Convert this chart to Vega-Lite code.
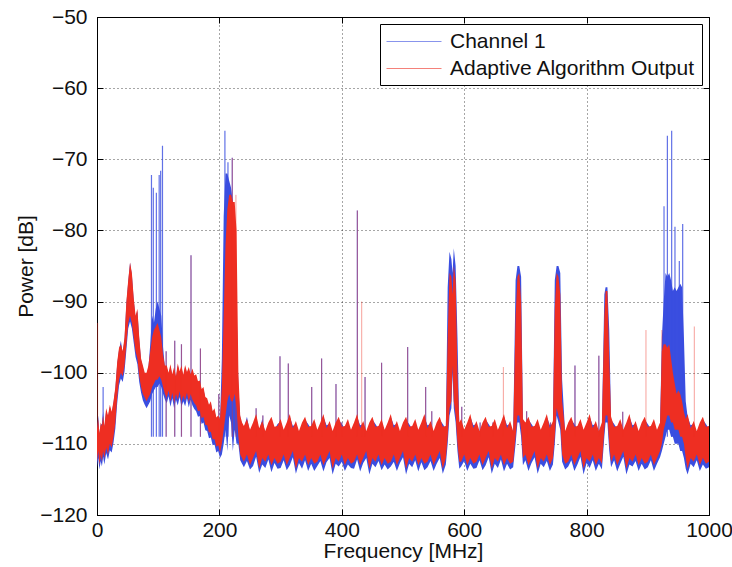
{
"$schema": "https://vega.github.io/schema/vega-lite/v6.json",
"width": 612, "height": 498,
"autosize": "none",
"padding": {"left": 97, "top": 17, "right": 23, "bottom": 52},
"background": "white",
"datasets": {
"band": [
{"f":0,"rl":-112.5,"rh":-108,"bl":-113.3,"bh":-108.3},
{"f":2,"rl":-111,"rh":-106.5,"bl":-112,"bh":-106},
{"f":4,"rl":-113,"rh":-108.5,"bl":-113.6,"bh":-108.8},
{"f":6,"rl":-111.5,"rh":-107,"bl":-112.4,"bh":-107.3},
{"f":8,"rl":-112.5,"rh":-107.5,"bl":-113.2,"bh":-107.2},
{"f":10,"rl":-111,"rh":-106,"bl":-111.8,"bh":-105.5},
{"f":12,"rl":-112,"rh":-107.5,"bl":-112.9,"bh":-107.8},
{"f":15,"rl":-110.5,"rh":-105,"bl":-111.3,"bh":-105.3},
{"f":18,"rl":-111.5,"rh":-106,"bl":-112.2,"bh":-106.3},
{"f":21,"rl":-110,"rh":-104.5,"bl":-110.9,"bh":-104.8},
{"f":24,"rl":-110.5,"rh":-105.5,"bl":-111.2,"bh":-105.8},
{"f":27,"rl":-109,"rh":-104,"bl":-109.8,"bh":-104.2},
{"f":30,"rl":-107,"rh":-102,"bl":-107.8,"bh":-102.3},
{"f":33,"rl":-103.5,"rh":-98.5,"bl":-104.3,"bh":-98.8},
{"f":36,"rl":-101,"rh":-96.5,"bl":-101.8,"bh":-96.8},
{"f":39,"rl":-100,"rh":-96,"bl":-100.8,"bh":-95.5},
{"f":42,"rl":-100.5,"rh":-97,"bl":-101.3,"bh":-97.3},
{"f":45,"rl":-99,"rh":-95,"bl":-99.8,"bh":-95.3},
{"f":48,"rl":-96,"rh":-90,"bl":-96.8,"bh":-90.3},
{"f":51,"rl":-93,"rh":-87,"bl":-93.8,"bh":-87.3},
{"f":54,"rl":-92,"rh":-84.5,"bl":-92.8,"bh":-84.5},
{"f":57,"rl":-93,"rh":-86,"bl":-93.8,"bh":-86.3},
{"f":60,"rl":-95,"rh":-89.5,"bl":-95.8,"bh":-89.8},
{"f":63,"rl":-97,"rh":-92,"bl":-97.8,"bh":-92.3},
{"f":66,"rl":-98,"rh":-91,"bl":-98.8,"bh":-91.3},
{"f":69,"rl":-100.5,"rh":-95,"bl":-101.3,"bh":-95.3},
{"f":72,"rl":-102,"rh":-98,"bl":-102.8,"bh":-98.3},
{"f":75,"rl":-103,"rh":-99,"bl":-103.9,"bh":-99.3},
{"f":78,"rl":-103.5,"rh":-100,"bl":-104.5,"bh":-100.3},
{"f":81,"rl":-104,"rh":-100,"bl":-105,"bh":-100.3},
{"f":84,"rl":-103.5,"rh":-99,"bl":-104.5,"bh":-99.3},
{"f":87,"rl":-103,"rh":-97,"bl":-104,"bh":-96},
{"f":90,"rl":-102,"rh":-95,"bl":-103,"bh":-92},
{"f":93,"rl":-101.5,"rh":-94,"bl":-102.5,"bh":-93},
{"f":96,"rl":-101,"rh":-93.5,"bl":-102,"bh":-91},
{"f":99,"rl":-101,"rh":-93,"bl":-102,"bh":-90},
{"f":102,"rl":-100.5,"rh":-94,"bl":-101.5,"bh":-91},
{"f":105,"rl":-101,"rh":-95,"bl":-102,"bh":-92},
{"f":108,"rl":-102,"rh":-97.5,"bl":-103,"bh":-96.5},
{"f":111,"rl":-103,"rh":-99,"bl":-103.8,"bh":-99.3},
{"f":114,"rl":-103.5,"rh":-99,"bl":-104.3,"bh":-99.3},
{"f":117,"rl":-102.5,"rh":-100,"bl":-103.3,"bh":-100.3},
{"f":120,"rl":-104,"rh":-98.8,"bl":-104.8,"bh":-99.1},
{"f":123,"rl":-102.8,"rh":-100.2,"bl":-103.6,"bh":-100.5},
{"f":126,"rl":-104.2,"rh":-99.2,"bl":-105,"bh":-99.5},
{"f":129,"rl":-103,"rh":-100.5,"bl":-103.8,"bh":-100.8},
{"f":132,"rl":-103.8,"rh":-98.7,"bl":-104.6,"bh":-99},
{"f":135,"rl":-102.6,"rh":-99.8,"bl":-103.4,"bh":-100.1},
{"f":138,"rl":-104,"rh":-99,"bl":-104.8,"bh":-99.3},
{"f":141,"rl":-103.2,"rh":-100.3,"bl":-104,"bh":-100.6},
{"f":144,"rl":-103.9,"rh":-98.9,"bl":-104.7,"bh":-99.2},
{"f":147,"rl":-102.8,"rh":-99.9,"bl":-103.6,"bh":-100.2},
{"f":150,"rl":-104.1,"rh":-99.2,"bl":-104.9,"bh":-99.5},
{"f":153,"rl":-103,"rh":-100.2,"bl":-103.8,"bh":-100.5},
{"f":156,"rl":-103.8,"rh":-99.4,"bl":-104.6,"bh":-99.7},
{"f":159,"rl":-104.3,"rh":-100.4,"bl":-105.1,"bh":-100.7},
{"f":162,"rl":-104.6,"rh":-100.2,"bl":-105.4,"bh":-100.5},
{"f":165,"rl":-105.4,"rh":-101.2,"bl":-106.2,"bh":-101.5},
{"f":168,"rl":-105.3,"rh":-101.1,"bl":-106.1,"bh":-101.4},
{"f":171,"rl":-106.4,"rh":-102.3,"bl":-107.2,"bh":-102.6},
{"f":174,"rl":-106.2,"rh":-102,"bl":-107,"bh":-102.3},
{"f":177,"rl":-107.3,"rh":-103.4,"bl":-108.1,"bh":-103.7},
{"f":180,"rl":-107.4,"rh":-103.6,"bl":-108.2,"bh":-103.9},
{"f":183,"rl":-108.4,"rh":-104.5,"bl":-109.2,"bh":-104.8},
{"f":186,"rl":-108.3,"rh":-104,"bl":-109.1,"bh":-104.3},
{"f":189,"rl":-109.4,"rh":-105.4,"bl":-110.2,"bh":-105.7},
{"f":192,"rl":-109.3,"rh":-105,"bl":-110.1,"bh":-105.3},
{"f":195,"rl":-110.4,"rh":-106.3,"bl":-111.2,"bh":-106.6},
{"f":198,"rl":-110.2,"rh":-106,"bl":-111,"bh":-106.3},
{"f":201,"rl":-111.2,"rh":-106.5,"bl":-112,"bh":-106.8},
{"f":204,"rl":-110,"rh":-102,"bl":-111.5,"bh":-98},
{"f":207,"rl":-108,"rh":-92,"bl":-110,"bh":-78},
{"f":210,"rl":-106,"rh":-82,"bl":-108,"bh":-72},
{"f":213,"rl":-104,"rh":-77,"bl":-111,"bh":-72},
{"f":216,"rl":-103,"rh":-75,"bl":-106,"bh":-73},
{"f":219,"rl":-104,"rh":-75,"bl":-107,"bh":-74},
{"f":222,"rl":-104,"rh":-76,"bl":-111,"bh":-76},
{"f":225,"rl":-103,"rh":-76,"bl":-108,"bh":-80},
{"f":228,"rl":-105,"rh":-80,"bl":-110,"bh":-90},
{"f":231,"rl":-109,"rh":-100,"bl":-110,"bh":-102},
{"f":234,"rl":-111.5,"rh":-106,"bl":-112.3,"bh":-106.3},
{"f":237,"rl":-112,"rh":-107,"bl":-112.8,"bh":-107.3},
{"f":240,"rl":-112.5,"rh":-107.5,"bl":-113.3,"bh":-107.9},
{"f":245,"rl":-111.5,"rh":-106.5,"bl":-112.4,"bh":-106.2},
{"f":250,"rl":-113,"rh":-108,"bl":-113.6,"bh":-108.4},
{"f":255,"rl":-112,"rh":-107,"bl":-113.1,"bh":-107.4},
{"f":260,"rl":-111,"rh":-105.8,"bl":-111.8,"bh":-106.2},
{"f":265,"rl":-113.5,"rh":-107.8,"bl":-114.1,"bh":-108.2},
{"f":270,"rl":-112,"rh":-106.8,"bl":-112.9,"bh":-106.5},
{"f":275,"rl":-112.5,"rh":-108.2,"bl":-113.4,"bh":-108.6},
{"f":280,"rl":-111.5,"rh":-107,"bl":-112.2,"bh":-107.4},
{"f":285,"rl":-113,"rh":-106.2,"bl":-114,"bh":-106.6},
{"f":290,"rl":-112,"rh":-107.6,"bl":-112.7,"bh":-108},
{"f":295,"rl":-112.8,"rh":-107.5,"bl":-113.5,"bh":-107.2},
{"f":300,"rl":-112.5,"rh":-106.5,"bl":-113.4,"bh":-106.9},
{"f":305,"rl":-111.5,"rh":-108,"bl":-112.3,"bh":-108.4},
{"f":310,"rl":-113,"rh":-107,"bl":-113.7,"bh":-107.4},
{"f":315,"rl":-112,"rh":-105.8,"bl":-113,"bh":-106.2},
{"f":320,"rl":-111,"rh":-107.8,"bl":-111.9,"bh":-107.5},
{"f":325,"rl":-113.5,"rh":-106.8,"bl":-114.2,"bh":-107.2},
{"f":330,"rl":-112,"rh":-108.2,"bl":-112.7,"bh":-108.6},
{"f":335,"rl":-112.5,"rh":-107,"bl":-113.5,"bh":-107.4},
{"f":340,"rl":-111.5,"rh":-106.2,"bl":-112.3,"bh":-106.6},
{"f":345,"rl":-113,"rh":-107.6,"bl":-113.8,"bh":-107.2},
{"f":350,"rl":-112,"rh":-107.5,"bl":-112.8,"bh":-107.9},
{"f":355,"rl":-112.8,"rh":-106.5,"bl":-113.8,"bh":-106.9},
{"f":360,"rl":-112.5,"rh":-108,"bl":-113.1,"bh":-108.4},
{"f":365,"rl":-111.5,"rh":-107,"bl":-112.4,"bh":-107.4},
{"f":370,"rl":-113,"rh":-105.8,"bl":-113.9,"bh":-106.2},
{"f":375,"rl":-112,"rh":-107.8,"bl":-112.6,"bh":-107.4},
{"f":380,"rl":-111,"rh":-106.8,"bl":-112,"bh":-107.2},
{"f":385,"rl":-113.5,"rh":-108.2,"bl":-114.3,"bh":-108.6},
{"f":390,"rl":-112,"rh":-107,"bl":-112.8,"bh":-107.4},
{"f":395,"rl":-112.5,"rh":-106.2,"bl":-113.2,"bh":-106.6},
{"f":400,"rl":-111.5,"rh":-107.6,"bl":-112.5,"bh":-107.2},
{"f":405,"rl":-113,"rh":-107.5,"bl":-113.8,"bh":-107.9},
{"f":410,"rl":-112,"rh":-106.5,"bl":-112.9,"bh":-106.9},
{"f":415,"rl":-112.8,"rh":-108,"bl":-113.4,"bh":-108.4},
{"f":420,"rl":-112.5,"rh":-107,"bl":-113.5,"bh":-107.4},
{"f":425,"rl":-111.5,"rh":-105.8,"bl":-112.2,"bh":-106.2},
{"f":430,"rl":-113,"rh":-107.8,"bl":-113.9,"bh":-107.4},
{"f":435,"rl":-112,"rh":-106.8,"bl":-112.7,"bh":-107.2},
{"f":440,"rl":-111,"rh":-108.2,"bl":-112,"bh":-108.6},
{"f":445,"rl":-113.5,"rh":-107,"bl":-114.3,"bh":-107.4},
{"f":450,"rl":-112,"rh":-106.2,"bl":-112.8,"bh":-106.6},
{"f":455,"rl":-112.5,"rh":-107.6,"bl":-113.3,"bh":-107.2},
{"f":460,"rl":-111.5,"rh":-107.5,"bl":-112.4,"bh":-107.9},
{"f":465,"rl":-113,"rh":-106.5,"bl":-113.7,"bh":-106.9},
{"f":470,"rl":-112,"rh":-108,"bl":-112.9,"bh":-108.4},
{"f":475,"rl":-112.8,"rh":-107,"bl":-113.6,"bh":-107.4},
{"f":480,"rl":-112.5,"rh":-105.8,"bl":-113.2,"bh":-106.2},
{"f":485,"rl":-111.5,"rh":-107.8,"bl":-112.5,"bh":-107.4},
{"f":490,"rl":-113,"rh":-106.8,"bl":-113.8,"bh":-107.2},
{"f":495,"rl":-112,"rh":-108.2,"bl":-112.7,"bh":-108.6},
{"f":500,"rl":-111,"rh":-107,"bl":-111.9,"bh":-107.4},
{"f":505,"rl":-113.5,"rh":-106.2,"bl":-114.3,"bh":-106.6},
{"f":510,"rl":-112,"rh":-107.6,"bl":-112.8,"bh":-107.2},
{"f":515,"rl":-112.5,"rh":-107.5,"bl":-113.3,"bh":-107.9},
{"f":520,"rl":-111.5,"rh":-106.5,"bl":-112.3,"bh":-106.9},
{"f":525,"rl":-113,"rh":-108,"bl":-113.9,"bh":-108.4},
{"f":530,"rl":-112,"rh":-107,"bl":-112.6,"bh":-107.4},
{"f":535,"rl":-112.8,"rh":-105.8,"bl":-113.7,"bh":-106.2},
{"f":540,"rl":-112.5,"rh":-107.8,"bl":-113.3,"bh":-107.4},
{"f":545,"rl":-111.5,"rh":-106.8,"bl":-112.4,"bh":-107.2},
{"f":550,"rl":-113,"rh":-108.2,"bl":-113.8,"bh":-108.6},
{"f":555,"rl":-112,"rh":-107,"bl":-112.8,"bh":-107.4},
{"f":560,"rl":-111,"rh":-106.2,"bl":-112,"bh":-106.6},
{"f":565,"rl":-113.5,"rh":-107.6,"bl":-114.2,"bh":-107.2},
{"f":570,"rl":-112,"rh":-107.5,"bl":-112.9,"bh":-107.9},
{"f":573,"rl":-109,"rh":-95,"bl":-110,"bh":-88},
{"f":576,"rl":-105,"rh":-86,"bl":-106,"bh":-83},
{"f":579,"rl":-104,"rh":-86.5,"bl":-105,"bh":-84},
{"f":581,"rl":-99,"rh":-89,"bl":-100,"bh":-86},
{"f":583,"rl":-104,"rh":-85,"bl":-105,"bh":-82.5},
{"f":586,"rl":-106,"rh":-87,"bl":-107,"bh":-85},
{"f":589,"rl":-110,"rh":-100,"bl":-111,"bh":-95},
{"f":592,"rl":-112.5,"rh":-107,"bl":-113.5,"bh":-107.4},
{"f":595,"rl":-112.5,"rh":-106.5,"bl":-113.2,"bh":-106.9},
{"f":600,"rl":-111.5,"rh":-108,"bl":-112.4,"bh":-108.4},
{"f":605,"rl":-113,"rh":-107,"bl":-113.8,"bh":-107.4},
{"f":610,"rl":-112,"rh":-105.8,"bl":-112.8,"bh":-106.2},
{"f":615,"rl":-112.8,"rh":-107.8,"bl":-113.5,"bh":-107.4},
{"f":620,"rl":-112.5,"rh":-106.8,"bl":-113.4,"bh":-107.2},
{"f":625,"rl":-111.5,"rh":-108.2,"bl":-112.3,"bh":-108.6},
{"f":630,"rl":-113,"rh":-107,"bl":-113.7,"bh":-107.4},
{"f":635,"rl":-112,"rh":-106.2,"bl":-113,"bh":-106.6},
{"f":640,"rl":-111,"rh":-107.6,"bl":-111.9,"bh":-107.2},
{"f":645,"rl":-113.5,"rh":-107.5,"bl":-114.2,"bh":-107.9},
{"f":650,"rl":-112,"rh":-106.5,"bl":-112.8,"bh":-106.9},
{"f":655,"rl":-112.5,"rh":-108,"bl":-113.4,"bh":-108.4},
{"f":660,"rl":-111.5,"rh":-107,"bl":-112.2,"bh":-107.4},
{"f":665,"rl":-113,"rh":-105.8,"bl":-113.9,"bh":-106.2},
{"f":670,"rl":-112,"rh":-107.8,"bl":-112.8,"bh":-107.4},
{"f":675,"rl":-112.8,"rh":-106.8,"bl":-113.6,"bh":-107.2},
{"f":680,"rl":-112.5,"rh":-108.2,"bl":-113.3,"bh":-108.6},
{"f":684,"rl":-109,"rh":-92,"bl":-110,"bh":-87},
{"f":687,"rl":-106,"rh":-86.5,"bl":-107,"bh":-85},
{"f":690,"rl":-106,"rh":-86,"bl":-107,"bh":-85},
{"f":693,"rl":-108,"rh":-90,"bl":-109,"bh":-86.5},
{"f":696,"rl":-112,"rh":-106.5,"bl":-113,"bh":-106.9},
{"f":700,"rl":-111.5,"rh":-107,"bl":-112.3,"bh":-107.4},
{"f":705,"rl":-113,"rh":-106.2,"bl":-113.8,"bh":-106.6},
{"f":710,"rl":-112,"rh":-107.6,"bl":-112.7,"bh":-107.2},
{"f":715,"rl":-111,"rh":-107.5,"bl":-111.9,"bh":-107.9},
{"f":720,"rl":-113.5,"rh":-106.5,"bl":-114.2,"bh":-106.9},
{"f":725,"rl":-112,"rh":-108,"bl":-112.8,"bh":-108.4},
{"f":730,"rl":-112.5,"rh":-107,"bl":-113.3,"bh":-107.4},
{"f":735,"rl":-111.5,"rh":-105.8,"bl":-112.4,"bh":-106.2},
{"f":740,"rl":-113,"rh":-107.8,"bl":-113.8,"bh":-107.4},
{"f":745,"rl":-112,"rh":-106.8,"bl":-112.9,"bh":-107.2},
{"f":748,"rl":-109,"rh":-91,"bl":-110,"bh":-87},
{"f":751,"rl":-105,"rh":-86,"bl":-106,"bh":-85},
{"f":754,"rl":-106,"rh":-86.5,"bl":-107,"bh":-85},
{"f":757,"rl":-107,"rh":-89,"bl":-108,"bh":-86},
{"f":760,"rl":-111.5,"rh":-104,"bl":-112.5,"bh":-101},
{"f":765,"rl":-112.8,"rh":-108.2,"bl":-113.6,"bh":-108.6},
{"f":770,"rl":-112.5,"rh":-107,"bl":-113.2,"bh":-107.4},
{"f":775,"rl":-111.5,"rh":-106.2,"bl":-112.3,"bh":-106.6},
{"f":780,"rl":-113,"rh":-107.6,"bl":-113.8,"bh":-107.2},
{"f":785,"rl":-112,"rh":-107.5,"bl":-112.9,"bh":-107.9},
{"f":790,"rl":-111,"rh":-106.5,"bl":-111.8,"bh":-106.9},
{"f":795,"rl":-113.5,"rh":-108,"bl":-114.3,"bh":-108.4},
{"f":800,"rl":-112,"rh":-107,"bl":-112.7,"bh":-107.4},
{"f":805,"rl":-112.5,"rh":-105.8,"bl":-113.4,"bh":-106.2},
{"f":810,"rl":-111.5,"rh":-107.8,"bl":-112.3,"bh":-107.4},
{"f":815,"rl":-113,"rh":-106.8,"bl":-113.8,"bh":-107.2},
{"f":820,"rl":-112,"rh":-108.2,"bl":-112.8,"bh":-108.6},
{"f":825,"rl":-112.8,"rh":-107,"bl":-113.6,"bh":-107.4},
{"f":829,"rl":-108,"rh":-92,"bl":-109,"bh":-89},
{"f":831,"rl":-106,"rh":-88.5,"bl":-107,"bh":-88},
{"f":834,"rl":-106,"rh":-88.5,"bl":-107,"bh":-88},
{"f":837,"rl":-110,"rh":-98,"bl":-111,"bh":-94},
{"f":840,"rl":-112.5,"rh":-106.2,"bl":-113.3,"bh":-106.6},
{"f":845,"rl":-111.5,"rh":-107.6,"bl":-112.3,"bh":-107.2},
{"f":850,"rl":-113,"rh":-107.5,"bl":-113.9,"bh":-107.9},
{"f":855,"rl":-112,"rh":-106.5,"bl":-112.8,"bh":-106.9},
{"f":860,"rl":-111,"rh":-108,"bl":-111.8,"bh":-108.4},
{"f":865,"rl":-113.5,"rh":-107,"bl":-114.3,"bh":-107.4},
{"f":870,"rl":-112,"rh":-105.8,"bl":-112.9,"bh":-106.2},
{"f":875,"rl":-112.5,"rh":-107.8,"bl":-113.2,"bh":-107.4},
{"f":880,"rl":-111.5,"rh":-106.8,"bl":-112.4,"bh":-107.2},
{"f":885,"rl":-113,"rh":-108.2,"bl":-113.8,"bh":-108.6},
{"f":890,"rl":-112,"rh":-107,"bl":-112.8,"bh":-107.4},
{"f":895,"rl":-112.8,"rh":-106.2,"bl":-113.6,"bh":-106.6},
{"f":900,"rl":-112.5,"rh":-107.6,"bl":-113.3,"bh":-107.2},
{"f":905,"rl":-111.5,"rh":-107.5,"bl":-112.3,"bh":-107.9},
{"f":910,"rl":-113,"rh":-106.5,"bl":-113.8,"bh":-106.9},
{"f":915,"rl":-112,"rh":-108,"bl":-112.8,"bh":-108.4},
{"f":920,"rl":-111,"rh":-107,"bl":-111.9,"bh":-107.4},
{"f":923,"rl":-110,"rh":-97,"bl":-111,"bh":-95},
{"f":926,"rl":-108,"rh":-96,"bl":-110,"bh":-90},
{"f":929,"rl":-107,"rh":-96,"bl":-109,"bh":-86},
{"f":932,"rl":-106,"rh":-96.5,"bl":-108,"bh":-86.5},
{"f":935,"rl":-106,"rh":-96,"bl":-108,"bh":-86},
{"f":938,"rl":-107,"rh":-98,"bl":-109,"bh":-87},
{"f":941,"rl":-107,"rh":-100,"bl":-109,"bh":-88.5},
{"f":944,"rl":-108,"rh":-101.5,"bl":-110,"bh":-88},
{"f":947,"rl":-108,"rh":-103,"bl":-110,"bh":-88.5},
{"f":950,"rl":-108,"rh":-102.5,"bl":-110,"bh":-88},
{"f":953,"rl":-109,"rh":-103,"bl":-111,"bh":-87.5},
{"f":956,"rl":-109,"rh":-104,"bl":-111,"bh":-88},
{"f":959,"rl":-110,"rh":-105.5,"bl":-112,"bh":-95},
{"f":962,"rl":-112,"rh":-106.5,"bl":-113.5,"bh":-104},
{"f":965,"rl":-113.5,"rh":-105.8,"bl":-114.3,"bh":-106.2},
{"f":970,"rl":-112,"rh":-107.8,"bl":-112.8,"bh":-107.4},
{"f":975,"rl":-112.5,"rh":-106.8,"bl":-113.3,"bh":-107.2},
{"f":980,"rl":-111.5,"rh":-108.2,"bl":-112.3,"bh":-108.6},
{"f":985,"rl":-113,"rh":-107,"bl":-113.8,"bh":-107.4},
{"f":990,"rl":-112,"rh":-106.2,"bl":-112.9,"bh":-106.6},
{"f":995,"rl":-112.8,"rh":-107.6,"bl":-113.5,"bh":-107.2},
{"f":1000,"rl":-112.5,"rh":-107.5,"bl":-113.3,"bh":-107.9}
],
"spikes": [
{"f":1,"top":-93,"s":"r"},
{"f":10,"top":-102,"s":"b"},
{"f":89,"top":-72.2,"s":"b"},
{"f":92,"top":-74,"s":"b"},
{"f":97,"top":-74.7,"s":"b"},
{"f":101.6,"top":-72.2,"s":"b"},
{"f":104,"top":-71.6,"s":"b"},
{"f":107,"top":-68.1,"s":"b"},
{"f":113,"top":-97,"s":"x"},
{"f":127,"top":-95.5,"s":"x"},
{"f":138,"top":-96,"s":"x"},
{"f":153.6,"top":-83.5,"s":"x"},
{"f":169,"top":-96.6,"s":"x"},
{"f":199,"top":-103,"s":"x"},
{"f":209,"top":-66,"s":"b"},
{"f":214,"top":-70.4,"s":"b"},
{"f":221,"top":-69.8,"s":"x"},
{"f":227,"top":-75,"s":"r"},
{"f":260,"top":-105,"s":"x"},
{"f":271,"top":-106,"s":"x"},
{"f":299,"top":-97.7,"s":"x"},
{"f":312.6,"top":-98.7,"s":"x"},
{"f":350.8,"top":-102,"s":"x"},
{"f":367,"top":-98,"s":"x"},
{"f":390.5,"top":-101.6,"s":"x"},
{"f":400,"top":-107,"s":"x"},
{"f":425.4,"top":-77.2,"s":"x"},
{"f":432.5,"top":-90,"s":"r"},
{"f":438,"top":-100.6,"s":"x"},
{"f":465,"top":-98.6,"s":"x"},
{"f":507.6,"top":-96.4,"s":"x"},
{"f":537,"top":-102,"s":"x"},
{"f":547,"top":-105.4,"s":"x"},
{"f":596,"top":-104.8,"s":"x"},
{"f":626,"top":-107,"s":"x"},
{"f":647,"top":-107,"s":"x"},
{"f":664,"top":-99.2,"s":"r"},
{"f":702,"top":-105.4,"s":"x"},
{"f":741,"top":-107,"s":"x"},
{"f":781,"top":-99,"s":"x"},
{"f":820,"top":-97.6,"s":"x"},
{"f":859,"top":-105.5,"s":"x"},
{"f":897,"top":-94,"s":"r"},
{"f":923,"top":-94,"s":"r"},
{"f":926.5,"top":-76.6,"s":"b"},
{"f":932,"top":-66.7,"s":"b"},
{"f":939,"top":-66,"s":"b"},
{"f":944.4,"top":-79.5,"s":"b"},
{"f":951.5,"top":-84.3,"s":"b"},
{"f":957,"top":-79.1,"s":"b"},
{"f":976,"top":-93.5,"s":"r"}
]
},
"layer": [
{
"data": {"name": "band"},
"mark": {"type": "area", "orient": "vertical", "clip": true},
"encoding": {
"x": {"field": "f", "type": "quantitative", "scale": {"domain": [0, 1000], "nice": false, "zero": false},
"axis": {"orient": "bottom", "values": [0, 200, 400, 600, 800, 1000], "title": "Frequency [MHz]", "grid": true, "tickSize": -6, "labelPadding": 10, "labelFlush": false, "labelOverlap": false, "format": "d", "titlePadding": 0}},
"y": {"field": "bl", "type": "quantitative", "scale": {"domain": [-120, -50], "nice": false, "zero": false},
"axis": {"orient": "left", "values": [-120, -110, -100, -90, -80, -70, -60, -50], "title": "Power [dB]", "grid": true, "tickSize": -6, "labelPadding": 16, "titlePadding": 3}},
"y2": {"field": "bh"},
"color": {"datum": "Channel 1", "type": "nominal",
"scale": {"domain": ["Channel 1", "Adaptive Algorithm Output"], "range": ["#3a4ee0", "#ee2e22"]},
"legend": {"title": null, "orient": "top-right", "offset": 7, "symbolType": "M-1,0H4", "symbolSize": 484, "labelFont": "Liberation Sans", "labelFontSize": 21, "labelColor": "#111", "labelLimit": 500, "strokeColor": "#000", "fillColor": "#fff", "padding": 6, "rowPadding": 5, "labelOffset": 41,
"encode": {"symbols": {"update": {"stroke": {"scale": "color", "field": "value"}, "strokeWidth": {"value": 1}, "fill": {"value": "transparent"}, "opacity": {"value": 0.6}}}}}}
}
},
{
"data": {"name": "spikes"},
"transform": [{"filter": "datum.s != 'r'"}],
"mark": {"type": "rule", "clip": true, "strokeWidth": 1.2, "opacity": 0.8},
"encoding": {
"x": {"field": "f", "type": "quantitative", "axis": null},
"y": {"field": "top", "type": "quantitative", "axis": null},
"y2": {"datum": -109},
"color": {"datum": "Channel 1", "type": "nominal"}
}
},
{
"data": {"name": "band"},
"mark": {"type": "area", "orient": "vertical", "clip": true},
"encoding": {
"x": {"field": "f", "type": "quantitative",
"axis": {"orient": "top", "values": [0, 200, 400, 600, 800, 1000], "labels": false, "title": null, "grid": false, "domain": false, "tickSize": -6}},
"y": {"field": "rl", "type": "quantitative",
"axis": {"orient": "right", "values": [-120, -110, -100, -90, -80, -70, -60, -50], "labels": false, "title": null, "grid": false, "domain": false, "tickSize": -6}},
"y2": {"field": "rh"},
"color": {"datum": "Adaptive Algorithm Output", "type": "nominal"}
}
},
{
"data": {"name": "spikes"},
"transform": [{"filter": "datum.s != 'b'"}],
"mark": {"type": "rule", "clip": true, "strokeWidth": 1, "opacity": 0.45},
"encoding": {
"x": {"field": "f", "type": "quantitative", "axis": null},
"y": {"field": "top", "type": "quantitative", "axis": null},
"y2": {"datum": -109},
"color": {"datum": "Adaptive Algorithm Output", "type": "nominal"}
}
}
],
"resolve": {"axis": {"x": "independent", "y": "independent"}},
"config": {
"font": "Liberation Sans",
"view": {"stroke": "#000", "strokeWidth": 1},
"axis": {"labelFont": "Liberation Sans", "labelFontSize": 21, "labelColor": "#111", "titleFont": "Liberation Sans", "titleFontSize": 21, "titleFontWeight": "normal", "titleColor": "#111", "domainColor": "#000", "tickColor": "#000", "gridColor": "#000", "gridDash": [1, 3], "gridOpacity": 0.7, "gridWidth": 1}
}
}
